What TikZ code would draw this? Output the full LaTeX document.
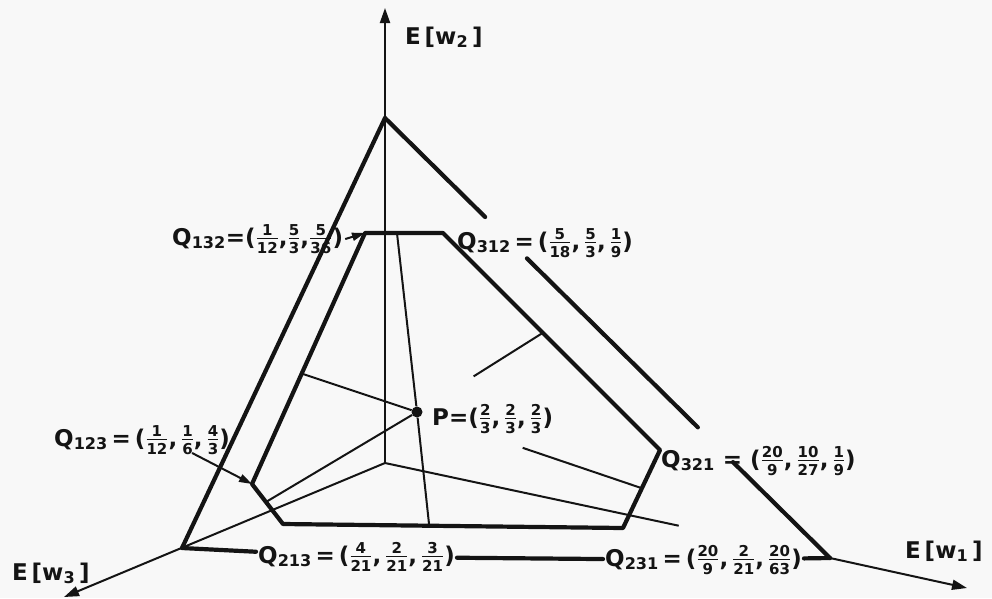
\documentclass[tikz,border=0pt]{standalone}
\usepackage{fontspec,amsmath}
\setmainfont{DejaVu Sans}
\usetikzlibrary{arrows.meta,calc}
\definecolor{ink}{HTML}{141414}
\definecolor{paper}{HTML}{F8F8F8}
\newcommand{\frsize}{\fontsize{15}{15}\selectfont}
\newcommand{\fr}[2]{$\genfrac{}{}{1.2pt}{1}{\text{\frsize #1}}{\text{\frsize #2}}$}
\tikzset{edge/.style={draw=ink,line width=4.2pt,line cap=round,line join=round},
 ray/.style={draw=ink,line width=2pt},
 axis/.style={ray,-{Triangle[length=15pt,width=10pt]}},
 ptr/.style={ray,-{Triangle[length=13pt,width=8pt]}},
 dot/.style={circle,fill=ink,inner sep=0pt,minimum size=11pt},
 lbl/.style={text=ink,font=\fontsize{23}{25}\selectfont\bfseries,inner sep=2pt,anchor=base west}}

\begin{document}
\begin{tikzpicture}[x=1pt,y=-1pt]
\fill[paper] (0,0) rectangle (992,598);
\useasboundingbox (0,0) rectangle (992,598);
% axes and big triangle
\coordinate (O) at (385,463);
\coordinate (T) at (385,118);
\coordinate (A) at (182,548);
\coordinate (B) at (830,558);
\coordinate (Y) at (385,8);
\coordinate (X) at (967,588);
\coordinate (Z) at (64,597);
% hexagon
\coordinate (q132) at (365,233);
\coordinate (q312) at (443,233);
\coordinate (q321) at (660,450);
\coordinate (q231) at (623,528);
\coordinate (q213) at (283,524);
\coordinate (q123) at (252,484);
\node[dot] (P) at (417,412) {};
\coordinate (e1) at ($(q132)!0.41!(q312)$);
\coordinate (e2) at ($(q123)!0.44!(q132)$);
\coordinate (e3) at ($(q123)!0.45!(q213)$);
\coordinate (e4) at ($(q213)!0.43!(q231)$);
\coordinate (e5) at ($(q312)!0.46!(q321)$);
\coordinate (e6) at ($(q321)!0.49!(q231)$);
% labels
\node[lbl] (w2) at (403,44) {E\,[w\textsubscript{2}\,]};
\node[lbl] (w3) at (10,580) {E\,[w\textsubscript{3}\,]};
\node[lbl] (w1) at (903,558) {E\,[w\textsubscript{1}\,]};
\node[lbl] (l132) at (170,245) {Q\textsubscript{132}=(\fr{1}{12},\fr{5}{3},\fr{5}{36})};
\node[lbl] (l312) at (455,249) {Q\textsubscript{312}\,=\,(\fr{5}{18},\,\fr{5}{3},\,\fr{1}{9})};
\node[lbl] (lP) at (430,425) {P=(\fr{2}{3},\,\fr{2}{3},\,\fr{2}{3})};
\node[lbl] (l123) at (52,446) {Q\textsubscript{123}\,=\,(\fr{1}{12},\,\fr{1}{6},\,\fr{4}{3})};
\node[lbl] (l321) at (659,467) {Q\textsubscript{321} = (\fr{20}{9},\,\fr{10}{27},\,\fr{1}{9})};
\node[lbl] (l213) at (256,563) {Q\textsubscript{213}\,=\,(\fr{4}{21},\,\fr{2}{21},\,\fr{3}{21})};
\node[lbl] (l231) at (603,566) {Q\textsubscript{231}\,=\,(\fr{20}{9},\,\fr{2}{21},\,\fr{20}{63})};
% thin lines
\draw[axis] (O) -- (Y);
\draw[axis] (O) -- (Z);
\draw[ray] (O) -- ($(O)!0.66!(B)$);
\draw[axis] (B) -- (X);
\draw[ray] (e1) -- (P) -- (e4);
\draw[ray] (e2) -- (P) -- (e3);
\draw[ray] ($(P)!0.45!(e5)$) -- (e5);
\draw[ray] ($(P)!0.47!(e6)$) -- (e6);
\draw[ptr] (l132.east) -- (q132);
\draw[ptr] ([xshift=-40pt,yshift=4pt]l123.south east) -- (q123);
% thick lines
\draw[edge] (T) -- (A);
\draw[edge] (T) -- ($(T)!0.225!(B)$);
\draw[edge] ($(T)!0.319!(B)$) -- ($(T)!0.703!(B)$);
\draw[edge] ($(T)!0.782!(B)$) -- (B);
\draw[edge] (A) -- (l213);
\draw[edge] (l213) -- (l231);
\draw[edge] (l231) -- (B);
\draw[edge] (q132) -- (q312) -- (q321) -- (q231) -- (q213) -- (q123) -- cycle;
\end{tikzpicture}
\end{document}
